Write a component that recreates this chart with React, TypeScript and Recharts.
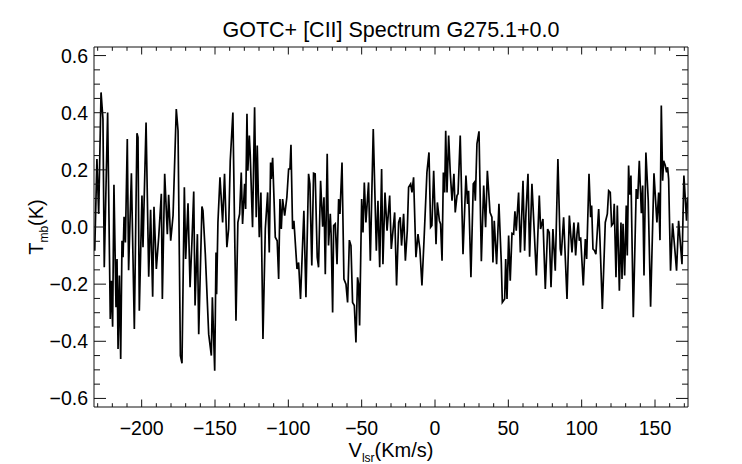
import { LineChart, Line, XAxis, YAxis, Label } from "recharts";

// channel velocity (km/s) and main-beam temperature (K)
const velocity = [
  -232.0, -230.5, -229.3, -227.7, -226.4, -225.5, -223.2, -221.4, -220.7, -219.8,
  -218.9, -217.5, -216.8, -216.1, -215.2, -214.3, -213.4, -212.7, -212.0, -211.1,
  -209.8, -208.9, -207.0, -205.0, -203.2, -202.5, -201.6, -199.8, -199.1, -197.0,
  -195.2, -193.9, -192.5, -191.6, -190.0, -188.4, -186.6, -185.9, -184.3, -182.5,
  -181.6, -180.2, -178.6, -176.4, -175.2, -173.6, -172.5, -170.9, -170.0, -168.4,
  -167.0, -165.7, -164.5, -163.6, -162.0, -161.1, -158.9, -158.2, -156.6, -154.3,
  -152.5, -151.8, -150.2, -149.3, -148.9, -148.0, -146.6, -144.8, -143.5, -141.9,
  -140.7, -139.6, -137.8, -135.7, -134.4, -133.2, -132.1, -131.2, -129.8, -129.1,
  -128.2, -127.6, -126.6, -126.0, -124.4, -123.0, -121.9, -121.2, -119.8, -118.7,
  -117.3, -115.7, -114.1, -113.0, -112.1, -111.6, -110.7, -108.9, -107.6, -106.6,
  -105.7, -104.8, -103.9, -102.5, -101.0, -99.8, -98.9, -98.2, -97.1, -96.2,
  -94.1, -93.0, -91.7, -89.4, -88.0, -86.2, -85.3, -84.0, -82.8, -81.7,
  -80.3, -79.4, -78.0, -76.6, -75.7, -74.8, -73.5, -72.6, -71.4, -70.8,
  -69.8, -69.1, -68.0, -66.8, -65.7, -64.8, -63.4, -62.1, -60.7, -59.6,
  -58.4, -57.3, -56.2, -55.0, -53.9, -52.8, -52.1, -51.4, -50.0, -49.1,
  -48.2, -47.1, -45.3, -44.1, -42.1, -40.0, -38.9, -37.7, -36.4, -35.5,
  -34.1, -32.7, -30.9, -29.8, -27.5, -26.2, -24.8, -23.7, -22.8, -21.4,
  -20.2, -18.9, -18.0, -16.6, -15.7, -14.6, -13.0, -11.6, -10.3, -8.9,
  -7.5, -5.5, -4.1, -3.0, -2.1, -0.9, 0.7, 1.6, 3.0, 3.8,
  4.8, 5.7, 6.6, 7.3, 8.2, 9.3, 10.4, 11.6, 12.9, 13.8,
  15.0, 15.7, 17.2, 19.1, 21.1, 22.2, 22.9, 24.5, 26.1, 26.8,
  27.5, 28.6, 30.0, 31.6, 33.2, 34.5, 35.7, 37.5, 38.8, 39.5,
  40.4, 42.0, 43.6, 45.2, 45.9, 47.5, 48.2, 49.1, 50.2, 51.3,
  52.5, 53.6, 54.5, 55.4, 57.0, 58.2, 60.0, 61.1, 62.0, 63.4,
  64.5, 66.1, 67.2, 69.1, 71.1, 72.0, 73.6, 75.2, 76.8, 77.9,
  79.1, 80.4, 82.0, 83.8, 85.4, 86.1, 87.7, 90.0, 91.6, 93.4,
  94.7, 95.9, 96.8, 97.7, 98.4, 99.3, 101.1, 102.5, 103.4, 105.0,
  106.1, 106.8, 107.7, 108.8, 109.7, 111.6, 112.5, 114.1, 116.1, 117.5,
  118.4, 119.5, 120.4, 121.6, 122.2, 123.4, 124.3, 125.7, 126.8, 127.5,
  128.2, 129.3, 130.4, 131.1, 132.0, 132.7, 133.6, 135.2, 137.2, 138.2,
  139.3, 140.7, 141.6, 142.5, 143.8, 145.4, 147.0, 149.3, 151.3, 152.5,
  153.4, 154.3, 155.2, 155.9, 157.0, 157.9, 158.6, 159.3, 160.6, 162.0,
  163.4, 164.7, 166.1, 168.4, 169.7, 170.6, 171.5, 172.2,
];

const tmb = [
  -0.083, 0.238, 0.046, 0.471, 0.378, -0.141, 0.401, -0.322, -0.188, -0.349,
  0.148, -0.281, -0.112, -0.427, -0.170, -0.462, -0.048, -0.106, 0.036, -0.054,
  0.308, -0.151, 0.188, -0.357, 0.328, 0.314, -0.293, 0.110, -0.071, 0.366,
  -0.174, 0.060, -0.244, 0.071, -0.147, -0.036, 0.116, -0.252, 0.186, -0.025,
  0.113, -0.048, 0.040, 0.413, 0.337, -0.450, -0.477, 0.139, -0.112, 0.083,
  -0.211, -0.048, 0.124, -0.275, -0.025, -0.375, 0.072, 0.057, -0.095, -0.375,
  -0.450, -0.246, -0.503, -0.089, -0.235, 0.016, 0.174, 0.016, 0.186, -0.071,
  -0.007, 0.232, 0.401, -0.328, 0.016, 0.046, 0.191, 0.011, 0.151, 0.063,
  0.396, 0.197, 0.320, 0.256, -0.001, 0.419, 0.034, 0.285, -0.036, 0.121,
  -0.392, -0.007, 0.121, -0.089, 0.226, 0.168, 0.242, -0.036, -0.048, -0.182,
  0.098, -0.007, 0.098, 0.040, 0.104, 0.203, 0.203, 0.288, -0.007, 0.022,
  -0.147, -0.124, -0.252, 0.057, -0.246, 0.186, 0.151, -0.135, 0.188, 0.186,
  -0.106, -0.141, 0.162, 0.001, 0.104, -0.165, 0.256, -0.065, 0.046, -0.030,
  -0.299, 0.005, 0.011, -0.130, 0.098, 0.046, 0.226, -0.182, -0.200, -0.264,
  -0.046, -0.065, -0.264, -0.275, -0.404, -0.176, -0.200, -0.345, 0.098, -0.019,
  0.156, 0.016, 0.156, -0.118, 0.343, -0.083, 0.092, -0.141, 0.203, -0.130,
  0.121, -0.013, 0.110, -0.077, 0.051, -0.205, 0.016, 0.034, -0.065, 0.046,
  -0.118, -0.013, 0.139, 0.151, 0.121, 0.174, -0.106, -0.025, -0.077, -0.205,
  -0.048, 0.191, 0.261, -0.001, 0.005, 0.197, -0.060, 0.086, 0.022, 0.011,
  -0.118, 0.191, 0.121, 0.337, 0.121, 0.320, 0.191, 0.092, 0.186, 0.051,
  0.110, 0.116, 0.320, -0.095, 0.180, 0.081, 0.127, -0.176, 0.151, 0.156,
  0.092, 0.291, 0.335, -0.120, 0.145, -0.001, 0.197, 0.051, 0.034, -0.124,
  0.022, -0.130, 0.081, -0.124, -0.264, -0.252, -0.112, -0.252, -0.030, -0.188,
  -0.022, -0.025, 0.055, -0.013, 0.121, -0.089, 0.162, -0.083, 0.046, 0.186,
  -0.104, 0.151, 0.034, -0.170, 0.110, -0.007, 0.028, -0.217, -0.007, -0.019,
  -0.211, -0.007, -0.153, 0.238, -0.077, -0.100, 0.034, -0.252, 0.040, -0.089,
  0.016, -0.100, -0.025, 0.016, -0.048, -0.036, -0.205, -0.042, -0.112, 0.186,
  0.034, 0.075, -0.077, -0.083, -0.095, 0.063, -0.048, -0.287, 0.016, 0.046,
  0.127, 0.121, 0.005, 0.013, 0.081, -0.176, 0.075, -0.223, 0.016, -0.182,
  0.011, -0.170, 0.075, -0.100, 0.215, 0.113, 0.180, -0.316, 0.133, 0.098,
  0.232, 0.048, 0.145, -0.170, 0.261, 0.092, -0.279, 0.188, 0.016, 0.121,
  -0.046, 0.425, 0.162, 0.232, 0.215, 0.191, 0.209, 0.168, -0.153, 0.013,
  -0.071, -0.153, 0.022, -0.130, 0.180, 0.104, 0.022, 0.104,
];

const xTicks = [
  -230, -220, -210, -200, -190, -180, -170, -160, -150, -140, -130, -120, -110,
  -100, -90, -80, -70, -60, -50, -40, -30, -20, -10, 0, 10, 20, 30, 40, 50, 60,
  70, 80, 90, 100, 110, 120, 130, 140, 150, 160, 170,
];
const xLabelTicks = [-200, -150, -100, -50, 0, 50, 100, 150];

const yTicks = [
  -0.6, -0.55, -0.5, -0.45, -0.4, -0.35, -0.3, -0.25, -0.2, -0.15, -0.1, -0.05,
  0, 0.05, 0.1, 0.15, 0.2, 0.25, 0.3, 0.35, 0.4, 0.45, 0.5, 0.55, 0.6,
];
const yLabelTicks = [-0.6, -0.4, -0.2, 0, 0.2, 0.4, 0.6];

const data = velocity.map((v, i) => ({ v, t: tmb[i] }));

const FONT = '"Liberation Sans", Arial, Helvetica, sans-serif';
const INK = "#111";

// plot box, so the mirrored ticks on the top and right edges can be drawn
const M = { top: 47, right: 54, bottom: 57, left: 94 };
const W = 742;
const H = 464;
const PLOT_W = W - M.left - M.right;
const PLOT_H = H - M.top - M.bottom;

const isMajor = (value: number, majors: number[]) =>
  majors.some((m) => Math.abs(m - value) < 1e-6);
const fmt = (n: number, digits: number) =>
  (n < -1e-9 ? "\u2212" : "") + Math.abs(n).toFixed(digits);

// IDL style: ticks point into the plot on all four sides, minor ones half length
const BottomTick = ({ x, y, payload }: any) => {
  const major = isMajor(payload.value, xLabelTicks);
  const len = major ? 7.5 : 3.8;
  const top = y - PLOT_H;
  return (
    <g>
      <line x1={x} x2={x} y1={y} y2={y - len} stroke={INK} />
      <line x1={x} x2={x} y1={top} y2={top + len} stroke={INK} />
      {major && (
        <text x={x} y={y + 28} textAnchor="middle" fontSize={19.5} fontFamily={FONT} fill="#000">
          {fmt(payload.value, 0)}
        </text>
      )}
    </g>
  );
};

const LeftTick = ({ x, y, payload }: any) => {
  const major = isMajor(payload.value, yLabelTicks);
  const len = major ? 12 : 6;
  const right = x + PLOT_W;
  return (
    <g>
      <line x1={x} x2={x + len} y1={y} y2={y} stroke={INK} />
      <line x1={right} x2={right - len} y1={y} y2={y} stroke={INK} />
      {major && (
        <text x={x - 6} y={y} dy="0.36em" textAnchor="end" fontSize={19.5} fontFamily={FONT} fill="#000">
          {fmt(payload.value, 1)}
        </text>
      )}
    </g>
  );
};

const TitleLabel = ({ viewBox }: any) => (
  <text
    x={viewBox.x + viewBox.width / 2}
    y={viewBox.y + viewBox.height - 10}
    textAnchor="middle"
    fontSize={21.5}
    fontFamily={FONT}
    fill="#000"
  >
    GOTC+ [CII] Spectrum G275.1+0.0
  </text>
);

const XTitle = ({ viewBox }: any) => (
  <text
    x={viewBox.x + viewBox.width / 2}
    y={viewBox.y + 50}
    textAnchor="middle"
    fontSize={20}
    fontFamily={FONT}
    fill="#000"
  >
    V
    <tspan fontSize={12} dy={5}>
      lsr
    </tspan>
    <tspan dy={-5}>(Km/s)</tspan>
  </text>
);

const YTitle = ({ viewBox }: any) => {
  const cx = 43;
  const cy = viewBox.y + viewBox.height / 2;
  return (
    <text
      x={cx}
      y={cy}
      transform={`rotate(-90, ${cx}, ${cy})`}
      textAnchor="middle"
      fontSize={20}
      fontFamily={FONT}
      fill="#000"
    >
      T
      <tspan fontSize={12} dy={5}>
        mb
      </tspan>
      <tspan dy={-5}>(K)</tspan>
    </text>
  );
};

export default function App() {
  return (
    <div style={{ position: "fixed", left: 0, top: 0, width: W, height: H, background: "#fff" }}>
      <LineChart width={W} height={H} data={data} margin={{ top: 0, right: 0, bottom: 0, left: 0 }}>
        <XAxis
          dataKey="v"
          type="number"
          domain={[-232.5, 172.5]}
          allowDataOverflow
          ticks={xTicks}
          interval={0}
          height={M.bottom}
          tickSize={0}
          tickMargin={0}
          tickLine={false}
          axisLine={{ stroke: INK }}
          tick={BottomTick}
        >
          <Label content={XTitle} />
        </XAxis>
        <XAxis
          xAxisId="top"
          orientation="top"
          type="number"
          domain={[-232.5, 172.5]}
          allowDataOverflow
          height={M.top}
          tick={false}
          tickLine={false}
          axisLine={{ stroke: INK }}
        >
          <Label content={TitleLabel} />
        </XAxis>
        <YAxis
          type="number"
          domain={[-0.63, 0.63]}
          allowDataOverflow
          ticks={yTicks}
          interval={0}
          width={M.left}
          tickSize={0}
          tickMargin={0}
          tickLine={false}
          axisLine={{ stroke: INK }}
          tick={LeftTick}
        >
          <Label content={YTitle} />
        </YAxis>
        <YAxis
          yAxisId="right"
          orientation="right"
          type="number"
          domain={[-0.63, 0.63]}
          allowDataOverflow
          width={M.right}
          tick={false}
          tickLine={false}
          axisLine={{ stroke: INK }}
        />
        <Line
          type="linear"
          dataKey="t"
          stroke="#000"
          strokeWidth={1.7}
          dot={false}
          isAnimationActive={false}
        />
      </LineChart>
    </div>
  );
}
